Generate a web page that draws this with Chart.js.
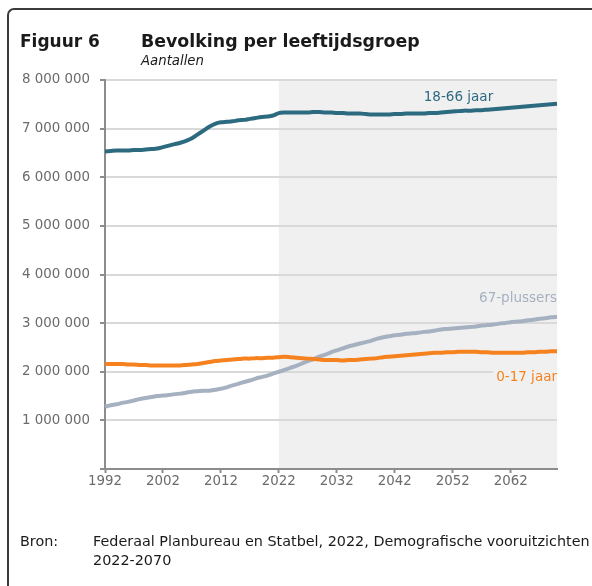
<!DOCTYPE html>
<html>
<head>
<meta charset="utf-8">
<script src="https://cdn.jsdelivr.net/npm/chart.js@4/dist/chart.umd.min.js"></script>
<style>
  html, body { margin: 0; padding: 0; background: #fff; }
  body { width: 592px; height: 586px; position: relative; overflow: hidden;
         font-family: "DejaVu Sans", sans-serif; }
  #frame { position: absolute; left: 7px; top: 8px; width: 700px; height: 700px;
           border-top: 2px solid #3c3c3c; border-left: 2px solid #3c3c3c; border-top-left-radius: 7px; }
  #chart { position: absolute; left: 0; top: 0; }
  .t { position: absolute; white-space: nowrap; color: #1a1a1a; line-height: normal; }
  #fig, #title { font-weight: bold; }
  #sub { font-style: italic; }
</style>
</head>
<body>
<div id="frame"></div>
<canvas id="chart" width="592" height="586"></canvas>
<div class="t" id="fig">Figuur 6</div>
<div class="t" id="title">Bevolking per leeftijdsgroep</div>
<div class="t" id="sub">Aantallen</div>
<div class="t" id="bron">Bron:</div>
<div class="t" id="src1">Federaal Planbureau en Statbel, 2022, Demografische vooruitzichten</div>
<div class="t" id="src2">2022-2070</div>
<script>
// years 1992 - 2070
var years = [];
for (var y = 1992; y <= 2070; y++) years.push(y);

// values in thousands
var age18to66 = [
  6530, 6540, 6550, 6550, 6550, 6560, 6560, 6570, 6580, 6590,
  6620, 6650, 6680, 6710, 6750, 6800, 6880, 6960, 7040, 7100,
  7130, 7140, 7150, 7170, 7180, 7200, 7220, 7240, 7250, 7270,
  7320, 7330, 7330, 7330, 7330, 7330, 7340, 7340, 7330, 7330,
  7320, 7320, 7310, 7310, 7310, 7300, 7290, 7290, 7290, 7290,
  7300, 7300, 7310, 7310, 7310, 7310, 7320, 7320, 7330, 7340,
  7350, 7360, 7370, 7370, 7380, 7380, 7390, 7400, 7410, 7420,
  7430, 7440, 7450, 7460, 7470, 7480, 7490, 7500, 7510
];
var age0to17 = [
  2160, 2160, 2160, 2160, 2150, 2150, 2140, 2140, 2130, 2130,
  2130, 2130, 2130, 2130, 2140, 2150, 2160, 2180, 2200, 2220,
  2230, 2240, 2250, 2260, 2270, 2270, 2280, 2280, 2290, 2290,
  2300, 2310, 2300, 2290, 2280, 2270, 2260, 2250, 2240, 2240,
  2240, 2230, 2240, 2240, 2250, 2260, 2270, 2280, 2300, 2310,
  2320, 2330, 2340, 2350, 2360, 2370, 2380, 2390, 2390, 2400,
  2400, 2410, 2410, 2410, 2410, 2400, 2400, 2390, 2390, 2390,
  2390, 2390, 2390, 2400, 2400, 2410, 2410, 2420, 2420
];
var age67plus = [
  1280, 1310, 1330, 1360, 1380, 1410, 1440, 1460, 1480, 1500,
  1510, 1520, 1540, 1550, 1570, 1590, 1600, 1610, 1610, 1630,
  1650, 1680, 1720, 1750, 1790, 1820, 1860, 1890, 1920, 1960,
  2000, 2040, 2080, 2120, 2170, 2220, 2260, 2310, 2350, 2400,
  2440, 2480, 2520, 2550, 2580, 2610, 2640, 2680, 2710, 2730,
  2750, 2760, 2780, 2790, 2800, 2820, 2830, 2850, 2870, 2880,
  2890, 2900, 2910, 2920, 2930, 2950, 2960, 2970, 2990, 3000,
  3020, 3030, 3040, 3060, 3070, 3090, 3100, 3120, 3130
];
var seriesNames = ['18-66 jaar', '67-plussers', '0-17 jaar'];
var seriesColors = ['#2c6a80', '#a5b1c1', '#f5821f'];
var projectionStart = 2022;

var FAMILY = '"DejaVu Sans", sans-serif';
var AXIS = '#8c8c8c';
var TICK_TEXT = '#6b6b6b';
var SHADE = '#f0f0f0';

// font size that gives a text a wanted width (reference fonts are not installed)
var measureCtx = document.createElement('canvas').getContext('2d');
function fitSize(text, prefix, width) {
  measureCtx.font = prefix + ' 100px ' + FAMILY;
  return 100 * width / measureCtx.measureText(text).width;
}
// place an html text by its left edge and baseline
function placeText(id, x, baseline, size) {
  var el = document.getElementById(id);
  el.style.fontSize = size.toFixed(2) + 'px';
  el.style.left = x + 'px';
  el.style.top = (baseline - 0.928 * size) + 'px';
}
function fitText(id, width) {
  var cs = getComputedStyle(document.getElementById(id));
  return fitSize(document.getElementById(id).textContent, cs.fontStyle + ' ' + cs.fontWeight, width);
}
placeText('fig', 20, 47, fitText('fig', 80));
placeText('title', 141, 47, fitText('title', 279));
placeText('sub', 141, 65, fitText('sub', 63));
var srcSize = fitText('src1', 497);
placeText('src1', 93, 546, srcSize);
placeText('src2', 93, 565, srcSize);
placeText('bron', 20, 546, srcSize);

var tickSize = fitSize('8 000 000', 'normal normal', 68);
var labelSize = fitSize('67-plussers', 'normal normal', 78);

function toPersons(arr) { return arr.map(function (v) { return v * 1000; }); }

// shaded projection area
var shadePlugin = {
  id: 'shade',
  beforeDraw: function (chart) {
    var ctx = chart.ctx, a = chart.chartArea, xs = chart.scales.x;
    var x0 = xs.getPixelForValue(years.indexOf(projectionStart));
    ctx.save();
    ctx.fillStyle = SHADE;
    ctx.fillRect(x0, a.top, a.right - x0, a.bottom - a.top);
    ctx.restore();
  }
};

// series names next to the lines
var labelPlugin = {
  id: 'seriesLabels',
  afterDatasetsDraw: function (chart) {
    var ctx = chart.ctx, a = chart.chartArea, xs = chart.scales.x, ys = chart.scales.y;
    ctx.save();
    ctx.font = labelSize.toFixed(2) + 'px ' + FAMILY;
    ctx.textBaseline = 'middle';
    ctx.fillStyle = seriesColors[0];
    ctx.textAlign = 'center';
    ctx.fillText(seriesNames[0], xs.getPixelForValue(years.indexOf(2053)), ys.getPixelForValue(7630000));
    ctx.textAlign = 'right';
    ctx.fillStyle = seriesColors[1];
    ctx.fillText(seriesNames[1], a.right, ys.getPixelForValue(3500000));
    // the 0-17 label hides the gridline behind it
    var yl = ys.getPixelForValue(1890000);
    var w = ctx.measureText(seriesNames[2]).width;
    ctx.fillStyle = SHADE;
    ctx.fillRect(a.right - w - 3, yl - 8, w + 3, 16);
    ctx.fillStyle = seriesColors[2];
    ctx.fillText(seriesNames[2], a.right, yl);
    ctx.restore();
  }
};

var ctx = document.getElementById('chart').getContext('2d');
var myChart = new Chart(ctx, {
  type: 'line',
  data: {
    labels: years,
    datasets: [
      { label: seriesNames[2], data: toPersons(age0to17), borderColor: seriesColors[2] },
      { label: seriesNames[1], data: toPersons(age67plus), borderColor: seriesColors[1] },
      { label: seriesNames[0], data: toPersons(age18to66), borderColor: seriesColors[0] }
    ]
  },
  options: {
    responsive: false,
    animation: false,
    layout: { padding: { left: 0, right: 35, top: 80, bottom: 0 } },
    elements: {
      line: { borderWidth: 4, tension: 0.3, fill: false, borderCapStyle: 'butt' },
      point: { radius: 0 }
    },
    plugins: { legend: { display: false }, tooltip: { enabled: false } },
    scales: {
      x: {
        type: 'category',
        offset: false,
        afterFit: function (s) { s.height = 586 - 469; },
        grid: { drawOnChartArea: false, drawTicks: true, tickLength: 4, tickColor: AXIS, tickWidth: 2 },
        border: { color: AXIS, width: 2 },
        ticks: {
          autoSkip: false, maxRotation: 0, padding: 1,
          color: TICK_TEXT, font: { family: FAMILY, size: tickSize },
          callback: function (v, i) { return (years[i] - 1992) % 10 === 0 ? String(years[i]) : null; }
        }
      },
      y: {
        min: 0, max: 8000000,
        afterFit: function (s) { s.width = 105; },
        grid: { color: '#d9d9d9', lineWidth: 2, tickLength: 5, tickColor: AXIS, tickWidth: 2 },
        border: { color: AXIS, width: 2 },
        ticks: {
          stepSize: 1000000, padding: 10,
          color: TICK_TEXT, font: { family: FAMILY, size: tickSize },
          callback: function (v) { return v === 0 ? '' : String(v).replace(/\B(?=(\d{3})+(?!\d))/g, ' '); }
        }
      }
    }
  },
  plugins: [shadePlugin, labelPlugin]
});
</script>
</body>
</html>
